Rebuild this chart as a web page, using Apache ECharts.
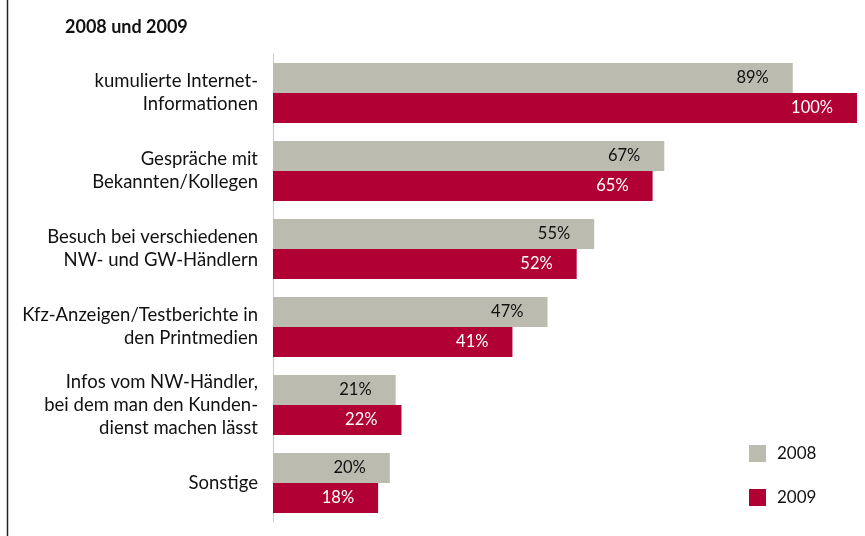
<!DOCTYPE html>
<html>
<head>
<meta charset="utf-8">
<script src="https://cdn.jsdelivr.net/npm/echarts@6/dist/echarts.min.js"></script>
<style>
  html, body { margin: 0; padding: 0; background: #fff; }
  #chart { width: 865px; height: 536px; }
</style>
</head>
<body>
<div id="chart"></div>
<script>
// Kategorien (von oben nach unten)
const categories = [
  'kumulierte Internet-\nInformationen',
  'Gespräche mit\nBekannten/Kollegen',
  'Besuch bei verschiedenen\nNW- und GW-Händlern',
  'Kfz-Anzeigen/Testberichte in\nden Printmedien',
  'Infos vom NW-Händler,\nbei dem man den Kunden-\ndienst machen lässt',
  'Sonstige'
]
const values2008 = [89, 67, 55, 47, 21, 20]
const values2009 = [100, 65, 52, 41, 22, 18]
const seriesNames = ['2008', '2009']

const font = 'Lato'
const chart = echarts.init(document.getElementById('chart'))

const option = {
  animation: false,
  textStyle: { fontFamily: font },
  title: {
    text: '2008 und 2009',
    left: 60,
    top: 13,
    textStyle: { fontFamily: font, fontSize: 18, fontWeight: 'bold', color: '#111' }
  },
  legend: {
    orient: 'vertical',
    left: 744,
    top: 440,
    itemWidth: 17,
    itemHeight: 17,
    itemGap: 27,
    icon: 'rect',
    textStyle: { fontFamily: font, fontSize: 17, color: '#111', padding: [0, 0, 0, 6] },
    data: seriesNames
  },
  grid: {
    left: 273,
    right: 8,
    top: 54,
    bottom: 14,
    containLabel: false
  },
  xAxis: {
    type: 'value',
    min: 0,
    max: 100,
    show: false
  },
  yAxis: {
    type: 'category',
    inverse: true,
    data: categories,
    axisLine: { show: true, lineStyle: { color: '#c8c8c8', width: 1 } },
    axisTick: { show: false },
    axisLabel: {
      margin: 15,
      fontFamily: font,
      fontSize: 18.5,
      lineHeight: 23,
      color: '#111',
      align: 'right'
    }
  },
  graphic: [{
    type: 'line',
    shape: { x1: 7.5, y1: 0, x2: 7.5, y2: 536 },
    style: { stroke: '#222', lineWidth: 1.5 }
  }],
  series: [
    {
      name: seriesNames[0],
      type: 'bar',
      data: values2008,
      barWidth: 30,
      barGap: '0%',
      itemStyle: { color: '#bbbbaf' },
      label: {
        show: true,
        position: 'insideRight',
        offset: [-19, 0],
        formatter: '{c}%',
        fontFamily: font,
        fontSize: 16.5,
        color: '#111'
      }
    },
    {
      name: seriesNames[1],
      type: 'bar',
      data: values2009,
      barWidth: 30,
      barGap: '0%',
      itemStyle: { color: '#b00034' },
      label: {
        show: true,
        position: 'insideRight',
        offset: [-19, 0],
        formatter: '{c}%',
        fontFamily: font,
        fontSize: 16.5,
        color: '#fff'
      }
    }
  ]
}

chart.setOption(option)
</script>
</body>
</html>
